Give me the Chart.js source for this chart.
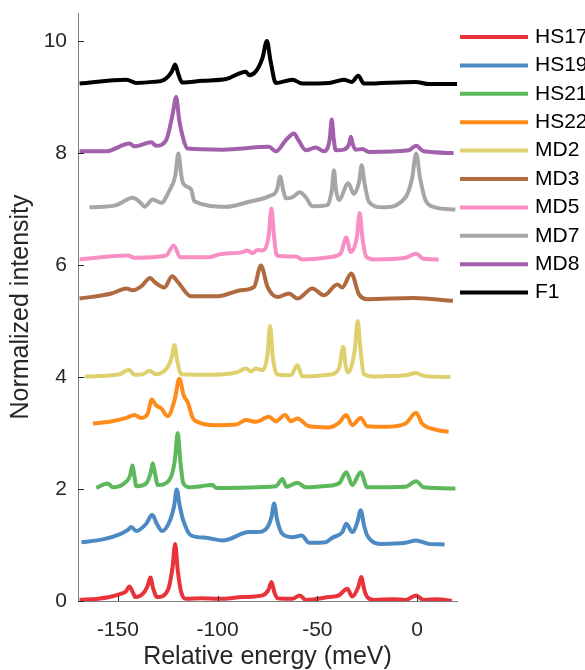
<!DOCTYPE html>
<html>
<head>
<meta charset="utf-8">
<script src="https://cdn.jsdelivr.net/npm/chart.js@4.4.0/dist/chart.umd.min.js"></script>
<style>
  body { margin: 0; background: #fff; }
</style>
</head>
<body>
<canvas id="spectraChart" width="585" height="670"></canvas>
<script>
// Tick labels
const xTicks = [-150, -100, -50, 0];
const yTicks = [0, 2, 4, 6, 8, 10];

// Series names and colours (legend order, top to bottom)
const labels = ["HS17", "HS19", "HS21", "HS22", "MD2", "MD3", "MD5", "MD7", "MD8", "F1"];
const colors = ["#e8333a", "#4d8ac4", "#5cb85a", "#ff8c1a", "#ded06e", "#b06a3f", "#f88fc4", "#a6a6a6", "#a15fac", "#000000"];

// Spectra (energy in meV, offset normalized intensity)
const hs17E = [-169.2, -160, -154.2, -148.3, -146, -144.2, -142.5, -141.2, -136.7, -135, -133.7, -132.3, -130.3, -125, -122.6, -121.3, -120, -118.3, -115.8, -108, -99.2, -87.5, -77.5, -74.5, -73, -71.5, -70, -62.5, -58.8, -55.8, -44.2, -39.2, -35, -32.5, -29.5, -28, -26.5, -25, -21.7, -12, -5.8, -0.5, 3.3, 10, 17.5];
const hs17I = [0.02, 0.04, 0.07, 0.13, 0.17, 0.26, 0.15, 0.07, 0.16, 0.28, 0.42, 0.22, 0.07, 0.19, 0.6, 1.02, 0.55, 0.16, 0.04, 0.05, 0.04, 0.07, 0.1, 0.2, 0.34, 0.15, 0.05, 0.04, 0.1, 0.02, 0.07, 0.1, 0.22, 0.08, 0.25, 0.43, 0.2, 0.07, 0.02, 0.03, 0.02, 0.1, 0.02, 0.03, 0.0];

const hs19E = [-168.3, -157.5, -149.2, -145, -143.3, -140.8, -135.8, -132.8, -130.5, -127.8, -124.2, -121.8, -120.5, -119, -117.5, -113.3, -105.8, -97.5, -84.2, -80, -75, -73, -71.7, -70.2, -67.8, -62.5, -57.8, -54.2, -45.8, -42.5, -37.5, -35.5, -32.5, -30, -28.3, -26.6, -25, -17.5, -5.8, -0.5, 5.8, 13.8];
const hs19I = [1.05, 1.10, 1.19, 1.27, 1.32, 1.25, 1.38, 1.54, 1.38, 1.25, 1.41, 1.7, 1.99, 1.7, 1.47, 1.17, 1.13, 1.08, 1.23, 1.23, 1.32, 1.5, 1.74, 1.45, 1.21, 1.14, 1.17, 1.04, 1.05, 1.13, 1.23, 1.38, 1.23, 1.4, 1.62, 1.35, 1.17, 1.02, 1.04, 1.08, 1.02, 1.01];

const hs21E = [-160.8, -155, -152.5, -145.8, -143.8, -142.8, -141.8, -140.8, -135.8, -133.5, -132.5, -131.5, -130, -124.2, -121.5, -120, -118.7, -117.2, -114, -102.5, -100.8, -70.8, -67.5, -65.5, -60, -55.8, -47.5, -39.2, -35.5, -32.5, -28.3, -25, -5.8, -0.5, 3.3, 19.2];
const hs21I = [2.02, 2.10, 2.03, 2.13, 2.25, 2.42, 2.25, 2.05, 2.10, 2.3, 2.46, 2.3, 2.07, 2.16, 2.5, 3.0, 2.5, 2.10, 2.03, 2.07, 2.02, 2.05, 2.18, 2.04, 2.11, 2.03, 2.05, 2.10, 2.30, 2.07, 2.30, 2.03, 2.04, 2.14, 2.03, 2.01];

const hs22E = [-162.5, -154.2, -145.8, -141.7, -138.3, -135, -133, -131, -128.3, -125, -121.5, -119.2, -117, -115, -112.5, -110.8, -100.8, -90.8, -85.8, -80.8, -74.2, -70.8, -66.2, -63.3, -60, -54.2, -44.2, -39.2, -35.5, -32.5, -28.3, -25, -15.8, -5.8, -0.5, 2.5, 9.2, 15.8];
const hs22I = [3.17, 3.20, 3.27, 3.32, 3.27, 3.35, 3.60, 3.5, 3.44, 3.30, 3.6, 3.97, 3.67, 3.55, 3.27, 3.21, 3.14, 3.15, 3.23, 3.20, 3.29, 3.21, 3.32, 3.21, 3.26, 3.12, 3.10, 3.18, 3.32, 3.14, 3.27, 3.12, 3.11, 3.17, 3.36, 3.17, 3.06, 3.02];

const md2E = [-166.7, -149.2, -144.5, -141.7, -137.5, -134.2, -130.8, -125, -123, -121.7, -120.3, -118.3, -104.2, -90.8, -85.8, -83.3, -80.8, -77.5, -75, -73.7, -72.3, -70.3, -63.3, -60, -57.5, -44.2, -39.2, -37, -35.8, -34.5, -31.2, -29.8, -28.3, -26.7, -21.7, -5.8, -0.5, 3.3, 16.7];
const md2I = [4.01, 4.05, 4.13, 4.04, 4.05, 4.11, 4.05, 4.18, 4.35, 4.57, 4.3, 4.05, 4.04, 4.08, 4.15, 4.10, 4.15, 4.12, 4.4, 4.91, 4.35, 4.05, 4.03, 4.21, 4.01, 4.04, 4.15, 4.54, 4.2, 4.08, 4.5, 5.0, 4.45, 4.05, 4.01, 4.03, 4.07, 4.02, 4.0];

const md3E = [-169.2, -153.3, -145.8, -142.5, -138.3, -133.8, -131.7, -126.7, -122.8, -120, -113.3, -100, -88.3, -81.7, -78.3, -75, -70, -64.2, -60, -52.5, -46.7, -40, -37.5, -33, -29.2, -25, -1.7, 18];
const md3I = [5.40, 5.49, 5.58, 5.55, 5.62, 5.77, 5.70, 5.60, 5.80, 5.70, 5.44, 5.44, 5.55, 5.61, 5.99, 5.61, 5.43, 5.49, 5.40, 5.58, 5.46, 5.65, 5.60, 5.85, 5.48, 5.39, 5.41, 5.36];

const md5E = [-169.2, -145, -141.7, -125.8, -122, -118.8, -104.2, -99.2, -87.5, -85, -82.5, -80, -77.5, -74.5, -73, -71.7, -70.3, -60.8, -57.5, -44.2, -38.3, -35.5, -33.3, -30.2, -28.8, -27.3, -25.5, -21.7, -5.8, -0.5, 3.3, 10.8];
const md5I = [6.10, 6.17, 6.13, 6.17, 6.35, 6.14, 6.14, 6.19, 6.23, 6.26, 6.21, 6.27, 6.26, 6.5, 7.01, 6.5, 6.17, 6.15, 6.10, 6.14, 6.21, 6.49, 6.23, 6.5, 6.93, 6.45, 6.15, 6.10, 6.13, 6.20, 6.11, 6.10];

const md7E = [-164.2, -150.8, -142.5, -138.3, -136.7, -132.5, -128.3, -124.2, -121.2, -119.7, -118.2, -117.2, -113.3, -111.7, -95.8, -84.2, -74.2, -70.2, -68.7, -67.2, -65.8, -62.5, -58.8, -55.8, -52.5, -45, -42.7, -41.7, -40.7, -39.2, -34.5, -31.7, -29, -27.8, -26.3, -24.2, -17.5, -5.8, -2.5, -0.5, 1.5, 4.2, 9.2, 19.2];
const md7I = [7.03, 7.07, 7.20, 7.10, 7.04, 7.17, 7.11, 7.33, 7.6, 7.99, 7.6, 7.45, 7.35, 7.14, 7.04, 7.13, 7.23, 7.35, 7.58, 7.35, 7.19, 7.21, 7.30, 7.21, 7.05, 7.07, 7.35, 7.69, 7.35, 7.16, 7.46, 7.27, 7.5, 7.78, 7.45, 7.13, 7.03, 7.21, 7.55, 7.99, 7.55, 7.16, 7.03, 6.99];

const md8E = [-169.2, -155.8, -144.2, -141.7, -133.3, -130.8, -125.8, -122.5, -120.8, -119.3, -118.3, -115, -97.5, -74.2, -70.8, -65.8, -61.7, -59.5, -55.8, -50.8, -46.7, -43.8, -42.8, -41.8, -40.8, -36.7, -34.2, -33.2, -32.2, -30.8, -27.5, -24.2, -4.2, -0.5, 3.3, 18.3];
const md8I = [8.03, 8.03, 8.17, 8.12, 8.19, 8.13, 8.23, 8.70, 9.0, 8.6, 8.41, 8.08, 8.06, 8.11, 8.03, 8.23, 8.35, 8.23, 8.05, 8.10, 8.03, 8.25, 8.60, 8.25, 8.05, 8.06, 8.15, 8.29, 8.15, 8.06, 8.07, 8.02, 8.05, 8.13, 8.03, 8.0];

const f1E = [-169.2, -145.8, -140.8, -132.5, -126.7, -123, -121.3, -119.8, -117.8, -107.5, -95.8, -85.8, -84.2, -80.8, -77.5, -75.3, -73.5, -70.8, -62.5, -57.5, -44.2, -36.7, -32.8, -29.5, -26.7, -0.8, 6, 20];
const f1I = [9.24, 9.31, 9.25, 9.27, 9.31, 9.45, 9.58, 9.42, 9.26, 9.29, 9.32, 9.45, 9.39, 9.46, 9.7, 10.0, 9.65, 9.25, 9.31, 9.24, 9.25, 9.31, 9.27, 9.38, 9.24, 9.27, 9.23, 9.23];

const energies = [hs17E, hs19E, hs21E, hs22E, md2E, md3E, md5E, md7E, md8E, f1E];
const intensities = [hs17I, hs19I, hs21I, hs22I, md2I, md3I, md5I, md7I, md8I, f1I];

const FONT = "'Liberation Sans', Arial, Helvetica, sans-serif";
Chart.defaults.font.family = FONT;
Chart.defaults.color = "#262626";

// Inward tick marks (MATLAB style)
const inwardTicks = {
  id: "inwardTicks",
  afterDatasetsDraw(chart) {
    const { ctx, chartArea, scales } = chart;
    ctx.save();
    ctx.strokeStyle = "#262626";
    ctx.lineWidth = 1;
    ctx.beginPath();
    xTicks.forEach((v) => {
      const px = Math.round(scales.x.getPixelForValue(v)) + 0.5;
      ctx.moveTo(px, chartArea.bottom);
      ctx.lineTo(px, chartArea.bottom - 5);
    });
    yTicks.forEach((v) => {
      const py = Math.round(scales.y.getPixelForValue(v)) + 0.5;
      ctx.moveTo(chartArea.left, py);
      ctx.lineTo(chartArea.left + 6, py);
    });
    ctx.stroke();
    ctx.restore();
  },
};

// Legend to the right of the axes
const sideLegend = {
  id: "sideLegend",
  afterDraw(chart) {
    const { ctx, chartArea } = chart;
    const x0 = chartArea.right + 3;
    ctx.save();
    ctx.font = "21px " + FONT;
    ctx.textBaseline = "middle";
    chart.data.datasets.forEach((ds, i) => {
      const y = 37 + i * 28.4;
      ctx.strokeStyle = ds.borderColor;
      ctx.lineWidth = 4;
      ctx.beginPath();
      ctx.moveTo(x0, y);
      ctx.lineTo(x0 + 68, y);
      ctx.stroke();
      ctx.fillStyle = "#000";
      ctx.fillText(ds.label, x0 + 75, y);
    });
    ctx.restore();
  },
};

const datasets = labels.map((name, i) => ({
  label: name,
  data: energies[i].map((e, j) => ({ x: e, y: intensities[i][j] })),
  borderColor: colors[i],
  borderWidth: 4,
  pointRadius: 0,
  fill: false,
  cubicInterpolationMode: "monotone",
  borderJoinStyle: "round",
}));

// no extra label padding, so the plot box sits exactly where we want it
const noPad = (s) => {
  s.paddingTop = 0;
  s.paddingBottom = 0;
  s.paddingLeft = 0;
  s.paddingRight = 0;
};

const ctx = document.getElementById("spectraChart");
new Chart(ctx, {
  type: "line",
  data: { datasets },
  plugins: [inwardTicks, sideLegend],
  options: {
    responsive: false,
    animation: false,
    layout: { padding: { left: 0, right: 128, top: 13, bottom: 0 } },
    plugins: { legend: { display: false }, tooltip: { enabled: false } },
    scales: {
      x: {
        type: "linear",
        min: -170,
        max: 20,
        afterFit: (s) => { s.height = 69; noPad(s); },
        afterBuildTicks: (s) => { s.ticks = xTicks.map((v) => ({ value: v })); },
        grid: { display: false, drawTicks: false },
        border: { display: true, color: "#7f7f7f", width: 1 },
        ticks: { font: { size: 21 }, color: "#262626", padding: 17, maxRotation: 0 },
        title: {
          display: true,
          text: "Relative energy (meV)",
          font: { size: 25, lineHeight: 1 },
          color: "#262626",
          padding: { top: 0, bottom: 0 },
        },
      },
      y: {
        type: "linear",
        min: 0,
        max: 10.5,
        afterFit: (s) => { s.width = 78; noPad(s); },
        afterBuildTicks: (s) => { s.ticks = yTicks.map((v) => ({ value: v })); },
        grid: { display: false, drawTicks: false },
        border: { display: true, color: "#7f7f7f", width: 1 },
        ticks: { font: { size: 21 }, color: "#262626", padding: 11 },
        title: {
          display: true,
          text: "Normalized intensity",
          font: { size: 25, lineHeight: 1 },
          color: "#262626",
          padding: { top: 9, bottom: 0 },
        },
      },
    },
  },
});
</script>
</body>
</html>
